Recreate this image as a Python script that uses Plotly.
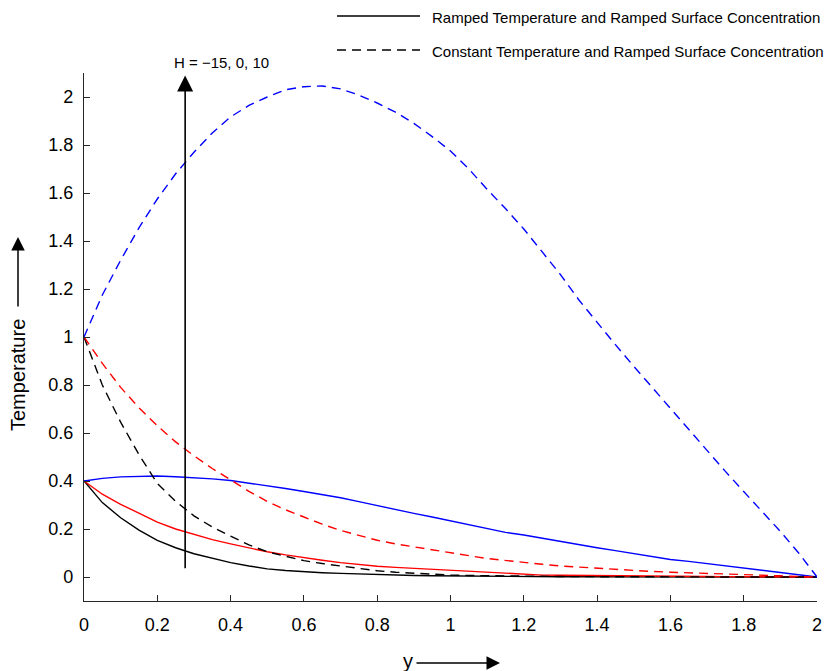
import plotly.graph_objects as go

# ---- data ----
y_pos = [0, 0.05, 0.1, 0.15, 0.2, 0.25, 0.3, 0.35, 0.4, 0.45, 0.5, 0.55, 0.6, 0.65, 0.7,
         0.75, 0.8, 0.85, 0.9, 0.95, 1.0, 1.05, 1.1, 1.15, 1.2, 1.25, 1.3, 1.35, 1.4,
         1.45, 1.5, 1.55, 1.6, 1.65, 1.7, 1.75, 1.8, 1.85, 1.9, 1.95, 2.0]

# Ramped temperature (solid)
ramp_h_neg15 = [0.40, 0.31, 0.247, 0.195, 0.153, 0.122, 0.097, 0.077, 0.060, 0.046, 0.034,
                0.027, 0.021, 0.018, 0.015, 0.012, 0.010, 0.008, 0.006, 0.005, 0.004,
                0.0035, 0.003, 0.0025, 0.002, 0.0015, 0.001, 0.001, 0.001, 0.0008, 0.0006,
                0.0005, 0.0004, 0.0003, 0.0002, 0.0002, 0.0001, 0.0001, 0.0, 0.0, 0.0]
ramp_h_0 = [0.40, 0.345, 0.303, 0.265, 0.229, 0.200, 0.177, 0.156, 0.138, 0.120, 0.105,
            0.092, 0.080, 0.070, 0.060, 0.052, 0.045, 0.040, 0.036, 0.031, 0.026,
            0.022, 0.018, 0.014, 0.010, 0.008, 0.007, 0.006, 0.005, 0.0045, 0.004,
            0.0035, 0.003, 0.0025, 0.002, 0.0015, 0.001, 0.0008, 0.0005, 0.0002, 0.0]
ramp_h_10 = [0.40, 0.411, 0.417, 0.420, 0.421, 0.418, 0.414, 0.409, 0.402, 0.392, 0.381,
             0.369, 0.356, 0.344, 0.330, 0.314, 0.297, 0.281, 0.265, 0.250, 0.234,
             0.217, 0.201, 0.186, 0.175, 0.161, 0.147, 0.133, 0.122, 0.110, 0.098,
             0.085, 0.073, 0.065, 0.056, 0.045, 0.035, 0.028, 0.020, 0.010, 0.0]

# Constant temperature (dashed)
const_h_neg15 = [1.0, 0.80, 0.645, 0.51, 0.39, 0.315, 0.255, 0.208, 0.170, 0.134, 0.105,
                 0.085, 0.068, 0.056, 0.045, 0.035, 0.026, 0.020, 0.015, 0.011, 0.008,
                 0.0065, 0.005, 0.004, 0.003, 0.0025, 0.002, 0.0015, 0.001, 0.001, 0.0008,
                 0.0006, 0.0005, 0.0004, 0.0003, 0.0002, 0.0002, 0.0001, 0.0, 0.0, 0.0]
const_h_0 = [1.0, 0.89, 0.79, 0.705, 0.63, 0.563, 0.505, 0.452, 0.405, 0.357, 0.315,
             0.280, 0.250, 0.220, 0.194, 0.172, 0.153, 0.138, 0.125, 0.112, 0.101,
             0.089, 0.077, 0.068, 0.060, 0.053, 0.046, 0.041, 0.036, 0.031, 0.027,
             0.023, 0.020, 0.017, 0.014, 0.012, 0.010, 0.0075, 0.005, 0.0025, 0.0]
const_h_10 = [1.0, 1.175, 1.32, 1.455, 1.575, 1.68, 1.77, 1.85, 1.917, 1.965, 2.0,
              2.03, 2.043, 2.046, 2.034, 2.008, 1.975, 1.937, 1.89, 1.835, 1.775,
              1.70, 1.615, 1.535, 1.45, 1.355, 1.26, 1.155, 1.06, 0.968, 0.878,
              0.79, 0.70, 0.612, 0.524, 0.44, 0.356, 0.272, 0.19, 0.10, 0.0]

x_ticks = [0, 0.2, 0.4, 0.6, 0.8, 1, 1.2, 1.4, 1.6, 1.8, 2]
y_ticks = [0, 0.2, 0.4, 0.6, 0.8, 1, 1.2, 1.4, 1.6, 1.8, 2]

legend_labels = ["Ramped Temperature and Ramped Surface Concentration",
                 "Constant Temperature and Ramped Surface Concentration"]
h_label = "H = \u221215, 0, 10"
arrow_x = 0.276
arrow_y0, arrow_y1 = 0.03, 2.09

FONT = "Liberation Sans, Arial, Helvetica, sans-serif"
DASH = "9px,6px"
LW = 1.4

fig = go.Figure()
series = [
    (ramp_h_neg15, "black", "solid"),
    (ramp_h_0, "#ff0000", "solid"),
    (ramp_h_10, "#0000ff", "solid"),
    (const_h_neg15, "black", DASH),
    (const_h_0, "#ff0000", DASH),
    (const_h_10, "#0000ff", DASH),
]
for vals, col, dash in series:
    fig.add_trace(go.Scatter(x=y_pos, y=vals, mode="lines",
                             line=dict(color=col, width=LW, dash=dash),
                             showlegend=False, hoverinfo="skip"))

# Plot area in pixels: x 84..817, y 73..601
W, H = 826, 671
L, R, T, B = 84, 9, 73, 70
pw, ph = W - L - R, H - T - B

def px_x(p):
    return (p - L) / pw

def px_y(p):
    return (H - B - p) / ph

axis_col = "#262626"
fig.update_layout(
    width=W, height=H,
    margin=dict(l=L, r=R, t=T, b=B, pad=0, autoexpand=False),
    paper_bgcolor="white", plot_bgcolor="white",
    font=dict(family=FONT, color="black", size=18),
    xaxis=dict(range=[0, 2], tickvals=x_ticks, showgrid=False, zeroline=False,
               showline=True, linecolor=axis_col, linewidth=1.2, automargin=False,
               ticks="inside", ticklen=6, tickcolor=axis_col, tickwidth=1,
               tickfont=dict(size=18, family=FONT, color="black"),
               ticklabelstandoff=7),
    yaxis=dict(range=[-0.1, 2.1], tickvals=y_ticks, showgrid=False, zeroline=False,
               showline=True, linecolor=axis_col, linewidth=1.2, automargin=False,
               ticks="inside", ticklen=6, tickcolor=axis_col, tickwidth=1,
               tickfont=dict(size=18, family=FONT, color="black"),
               ticklabelstandoff=6),
)

# Legend (drawn manually)
fig.add_shape(type="line", xref="paper", yref="paper",
              x0=px_x(337), x1=px_x(420), y0=px_y(16), y1=px_y(16),
              line=dict(color="black", width=1.4))
fig.add_shape(type="line", xref="paper", yref="paper",
              x0=px_x(337), x1=px_x(420), y0=px_y(50), y1=px_y(50),
              line=dict(color="black", width=1.4, dash=DASH))
for lbl, yp in zip(legend_labels, [18, 52]):
    fig.add_annotation(text=lbl, xref="paper", yref="paper", x=px_x(430), y=px_y(yp),
                       xanchor="left", yanchor="middle", showarrow=False,
                       font=dict(size=15, family=FONT, color="black"))

# H arrow
fig.add_annotation(x=arrow_x, y=arrow_y1, ax=arrow_x, ay=arrow_y0, xref="x", yref="y",
                   axref="x", ayref="y", text="", showarrow=True,
                   arrowhead=2, arrowsize=2.0, arrowwidth=1.6, arrowcolor="black")
fig.add_annotation(text=h_label, xref="paper", yref="paper", x=px_x(221), y=px_y(62),
                   xanchor="center", yanchor="middle", showarrow=False,
                   font=dict(size=15, family=FONT, color="black"))

# Axis titles with arrows
fig.add_annotation(text="Temperature", xref="paper", yref="paper", x=px_x(18), y=px_y(375),
                   xanchor="center", yanchor="middle", textangle=-90, showarrow=False,
                   font=dict(size=20, family=FONT, color="black"))
fig.add_annotation(text="", xref="paper", yref="paper", x=px_x(18), y=px_y(237),
                   ax=0, ay=71, showarrow=True, arrowhead=2, arrowsize=1.8,
                   arrowwidth=1.5, arrowcolor="black")
fig.add_annotation(text="y", xref="paper", yref="paper", x=px_x(408), y=px_y(661),
                   xanchor="center", yanchor="middle", showarrow=False,
                   font=dict(size=20, family=FONT, color="black"))
fig.add_annotation(text="", xref="paper", yref="paper", x=px_x(500), y=px_y(663),
                   ax=-85, ay=0, showarrow=True, arrowhead=2, arrowsize=1.8,
                   arrowwidth=1.5, arrowcolor="black")

fig.write_html("out.html")
